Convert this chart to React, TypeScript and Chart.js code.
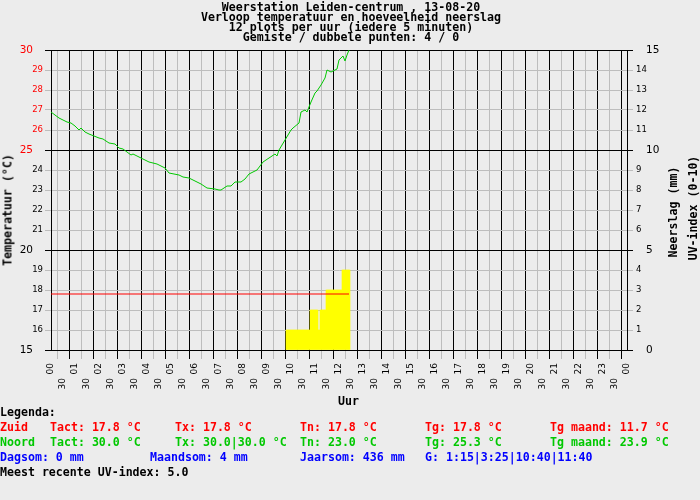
import { useEffect, useRef } from 'react'
import { Chart, registerables } from 'chart.js'

Chart.register(...registerables)

const BG = '#ececec'
const RED = '#ff0000'
const GREEN = '#00c800'
const BLUE = '#0000ff'
const MINOR = '#bdbdbd'
const MONO = '"DejaVu Sans Mono", monospace'
const SANS = 'DejaVu Sans'

const titleLines = [
  'Weerstation Leiden-centrum , 13-08-20',
  'Verloop temperatuur en hoeveelheid neerslag',
  '12 plots per uur (iedere 5 minuten)',
  'Gemiste / dubbele punten: 4 / 0',
]

// x axis: hour labels and the half-hour label
const hourLabels = [
  '00', '01', '02', '03', '04', '05', '06', '07', '08', '09', '10', '11', '12',
  '13', '14', '15', '16', '17', '18', '19', '20', '21', '22', '23', '00',
]
const halfHourLabel = '30'

// Noord temperature (°C)
const noordTimes = [
  '00:00', '00:10', '00:20', '00:40', '00:50', '01:00', '01:10', '01:15', '01:25', '01:35',
  '02:00', '02:10', '02:25', '02:40', '02:50', '03:00', '03:10', '03:20', '03:25', '03:40',
  '03:55', '04:05', '04:25', '04:45', '04:55', '05:20', '05:30', '05:45', '06:00', '06:15',
  '06:30', '06:50', '07:00', '07:05', '07:20', '07:30', '07:40', '07:55', '08:05', '08:15',
  '08:35', '08:50', '09:05', '09:20', '09:25', '09:30', '09:45', '10:00', '10:05', '10:20',
  '10:25', '10:35', '10:40', '10:50', '11:00', '11:05', '11:15', '11:25', '11:30', '11:40',
  '11:55', '12:00', '12:10', '12:15', '12:20', '12:25',
]
const noordTemps = [
  26.9, 26.75, 26.6, 26.4, 26.35, 26.2, 26.0, 26.1, 25.9, 25.8,
  25.6, 25.55, 25.35, 25.3, 25.1, 25.05, 24.9, 24.75, 24.8, 24.65,
  24.5, 24.4, 24.3, 24.1, 23.85, 23.75, 23.65, 23.6, 23.45, 23.3,
  23.1, 23.05, 23.0, 23.0, 23.2, 23.2, 23.4, 23.4, 23.55, 23.8,
  24.0, 24.4, 24.6, 24.8, 24.7, 25.0, 25.5, 26.0, 26.1, 26.35,
  26.9, 27.0, 26.9, 27.4, 27.85, 27.95, 28.25, 28.6, 29.0, 28.9,
  29.05, 29.5, 29.7, 29.45, 29.75, 30.0,
]

// Zuid temperature (°C)
const zuidTimes = ['00:00', '12:25']
const zuidTemps = [17.8, 17.8]

// Neerslag (mm) per 5 minutes
const rainTimes = [
  '09:50', '09:55', '10:00', '10:05', '10:10', '10:15', '10:20', '10:25', '10:30', '10:35',
  '10:40', '10:45', '10:50', '10:55', '11:00', '11:05', '11:10', '11:15', '11:20', '11:25',
  '11:30', '11:35', '11:40', '11:45', '11:50', '11:55', '12:00', '12:05', '12:10', '12:15',
  '12:20', '12:25',
]
const rainMm = [
  1, 1, 1, 1, 1, 1, 1, 1, 1, 1,
  1, 1, 2, 2, 2, 2, 1, 2, 2, 2,
  3, 3, 3, 3, 3, 3, 3, 3, 4, 4,
  4, 4,
]

const legendRows = [
  { color: RED, items: [[0, 'Zuid'], [50, 'Tact: 17.8 °C'], [175, 'Tx: 17.8 °C'], [300, 'Tn: 17.8 °C'], [425, 'Tg: 17.8 °C'], [550, 'Tg maand: 11.7 °C']] },
  { color: GREEN, items: [[0, 'Noord'], [50, 'Tact: 30.0 °C'], [175, 'Tx: 30.0|30.0 °C'], [300, 'Tn: 23.0 °C'], [425, 'Tg: 25.3 °C'], [550, 'Tg maand: 23.9 °C']] },
  { color: BLUE, items: [[0, 'Dagsom: 0 mm'], [150, 'Maandsom: 4 mm'], [300, 'Jaarsom: 436 mm'], [425, 'G: 1:15|3:25|10:40|11:40']] },
  { color: '#000', items: [[0, 'Meest recente UV-index: 5.0']] },
]

const toHours = (t: string) => {
  const [h, m] = t.split(':').map(Number)
  return h + m / 60
}

// value of the tick a scriptable option is asked for (NaN when there is none)
const tickVal = (c: any) => (c && c.tick ? c.tick.value : NaN)

// draws the x tick labels turned 90°, hours just under the axis, "30" one row lower
const xLabelsPlugin = {
  id: 'xLabels',
  afterDraw(chart: any) {
    const scale = chart.scales.x
    const ctx = chart.ctx
    const bottom = chart.chartArea.bottom
    ctx.save()
    ctx.fillStyle = '#000'
    ctx.font = `9px "${SANS}"`
    ctx.textAlign = 'right'
    ctx.textBaseline = 'middle'
    const put = (value: number, text: string, top: number) => {
      ctx.save()
      ctx.translate(scale.getPixelForValue(value), top)
      ctx.rotate(-Math.PI / 2)
      ctx.fillText(text, 0, 0)
      ctx.restore()
    }
    hourLabels.forEach((l, h) => {
      put(h, l, bottom + 13)
      if (h < hourLabels.length - 1) put(h + 0.5, halfHourLabel, bottom + 28)
    })
    ctx.restore()
  },
}

export default function App() {
  const chartRef = useRef<HTMLCanvasElement | null>(null)

  useEffect(() => {
    const ctx = chartRef.current?.getContext('2d')
    if (!ctx) return

    const chart = new Chart(ctx, {
      type: 'line',
      data: {
        datasets: [
          {
            label: 'Noord',
            data: noordTimes.map((t, i) => ({ x: toHours(t), y: noordTemps[i] })),
            borderColor: GREEN,
            borderWidth: 1,
            pointRadius: 0,
            tension: 0,
            xAxisID: 'x',
            yAxisID: 'y',
          },
          {
            label: 'Zuid',
            data: zuidTimes.map((t, i) => ({ x: toHours(t), y: zuidTemps[i] })),
            borderColor: RED,
            borderWidth: 1,
            pointRadius: 0,
            xAxisID: 'x',
            yAxisID: 'y',
          },
          {
            type: 'bar',
            label: 'Neerslag',
            data: rainTimes.map((t, i) => ({ x: toHours(t), y: rainMm[i] })),
            backgroundColor: '#ffff00',
            borderWidth: 0,
            barPercentage: 1,
            categoryPercentage: 1,
            xAxisID: 'x',
            yAxisID: 'y2',
          } as any,
        ],
      },
      options: {
        responsive: false,
        animation: false,
        devicePixelRatio: 1,
        layout: { padding: { top: 50, left: 0, right: 0, bottom: 0 } },
        plugins: {
          legend: { display: false },
          tooltip: { enabled: false },
          title: { display: false },
        },
        scales: {
          x: {
            type: 'linear',
            position: 'bottom',
            min: 0,
            max: 24,
            offset: false,
            afterFit: (s: any) => {
              s.height = 150
            },
            grid: {
              color: (c: any) => (Number.isInteger(tickVal(c)) ? '#000' : MINOR),
              tickLength: 9,
              lineWidth: 1,
            },
            border: { color: '#000' },
            ticks: {
              stepSize: 0.5,
              autoSkip: false,
              display: false,
            },
          },
          y: {
            position: 'left',
            min: 15,
            max: 30,
            afterFit: (s: any) => {
              s.width = 51
            },
            grid: {
              color: (c: any) => (tickVal(c) % 5 === 0 ? '#000' : MINOR),
              tickLength: 6,
            },
            border: { color: '#000' },
            ticks: {
              stepSize: 1,
              padding: 2,
              color: (c: any) => (tickVal(c) >= 25 ? RED : '#000'),
              font: (c: any) => ({ family: SANS, size: tickVal(c) % 5 === 0 ? 10.5 : 8.5 }),
              callback: (v: any) => (v % 5 === 0 ? `${v}   ` : `${v}`),
            },
          },
          y2: {
            position: 'right',
            min: 0,
            max: 15,
            afterFit: (s: any) => {
              s.width = 73
            },
            grid: {
              drawOnChartArea: false,
              color: (c: any) => (tickVal(c) % 5 === 0 ? '#000' : MINOR),
              tickLength: 6,
            },
            border: { color: '#000' },
            ticks: {
              stepSize: 1,
              padding: 3,
              color: '#000',
              font: (c: any) => ({ family: SANS, size: tickVal(c) % 5 === 0 ? 10.5 : 8.5 }),
              callback: (v: any) => (v % 5 === 0 ? `   ${v}` : `${v}`),
            },
          },
        },
      } as any,
      plugins: [xLabelsPlugin],
    })

    return () => {
      chart.destroy()
    }
  }, [])

  const rotated = (left: number, top: number) => ({
    position: 'absolute' as const,
    left,
    top,
    transform: 'translate(-50%, -50%) rotate(-90deg)',
    whiteSpace: 'nowrap' as const,
    lineHeight: '15px',
  })

  return (
    <div
      style={{
        position: 'absolute',
        left: 0,
        top: 0,
        width: 700,
        height: 500,
        background: BG,
        overflow: 'hidden',
        fontFamily: MONO,
        fontWeight: 'bold',
        fontSize: 11.6,
        color: '#000',
      }}
    >
      <canvas ref={chartRef} width={700} height={500} style={{ position: 'absolute', left: 0, top: 0 }} />

      <div style={{ position: 'absolute', left: 0, top: 2, width: 702, textAlign: 'center', lineHeight: '10px' }}>
        {titleLines.map((l) => (
          <div key={l} style={{ whiteSpace: 'pre' }}>{l}</div>
        ))}
      </div>

      <div style={rotated(8, 210)}>Temperatuur (°C)</div>
      <div style={rotated(673, 212)}>Neerslag (mm)</div>
      <div style={rotated(693, 208)}>UV-index (0-10)</div>

      <div style={{ position: 'absolute', left: 338, top: 394, lineHeight: '15px' }}>Uur</div>

      <div style={{ position: 'absolute', left: 0, top: 405, lineHeight: '15px' }}>Legenda:</div>
      {legendRows.map((row, r) =>
        row.items.map(([x, text]) => (
          <div
            key={`${r}-${x}`}
            style={{
              position: 'absolute',
              left: x as number,
              top: 420 + r * 15,
              lineHeight: '15px',
              whiteSpace: 'pre',
              color: row.color,
            }}
          >
            {text}
          </div>
        ))
      )}
    </div>
  )
}
